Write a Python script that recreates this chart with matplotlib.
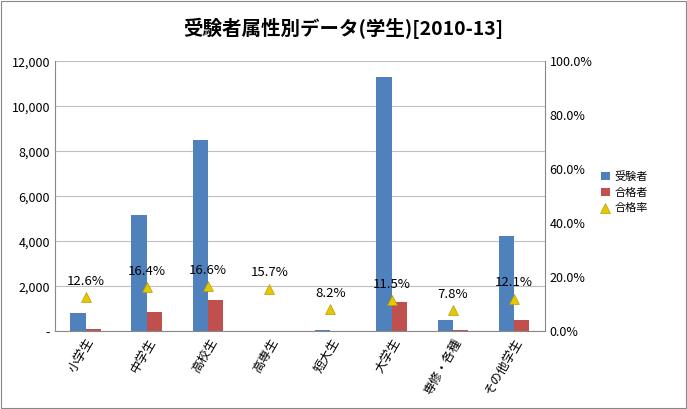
import matplotlib
matplotlib.use("Agg")
import matplotlib.pyplot as plt
import numpy as np
from matplotlib.ticker import FuncFormatter

plt.rcParams['font.family'] = ['Noto Sans CJK JP', 'DejaVu Sans']

categories = ["小学生", "中学生", "高校生", "高専生", "短大生", "大学生", "専修・各種", "その他学生"]
examinees = [800, 5150, 8500, 10, 50, 11300, 500, 4250]
passers = [100, 850, 1400, 2, 5, 1300, 40, 520]
rates = [12.6, 16.4, 16.6, 15.7, 8.2, 11.5, 7.8, 12.1]

fig = plt.figure(figsize=(6.87, 4.09), dpi=100)
fig.patch.set_facecolor('white')
ax = fig.add_axes([0.08, 0.19, 0.713, 0.66])
x = np.arange(len(categories))
w = 0.25
ax.bar(x - w/2, examinees, w, color='#4F81BD', label='受験者')
ax.bar(x + w/2, passers, w, color='#C0504D', label='合格者')
ax.set_xlim(-0.5, len(categories) - 0.5)
ax.set_ylim(0, 12000)
ax.set_yticks(range(0, 12001, 2000))
ax.yaxis.set_major_formatter(FuncFormatter(lambda v, p: '-' if v == 0 else f'{int(v):,}'))
ax.set_xticks(x)
ax.set_xticklabels(categories, rotation=60, ha='right', rotation_mode='anchor', fontsize=9)
ax.tick_params(axis='y', labelsize=9, length=0)
ax.tick_params(axis='x', length=0)
ax.yaxis.grid(True, color='#BFBFBF', linewidth=0.8)
ax.set_axisbelow(True)
for s in ['top', 'right']:
    ax.spines[s].set_visible(False)
ax.spines['left'].set_color('#888888')
ax.spines['bottom'].set_color('#888888')

ax2 = ax.twinx()
ax2.scatter(x, rates, marker='^', s=50, color='#E6C800', edgecolors='#B89A00', linewidths=0.5, label='合格率', zorder=5)
ax2.set_ylim(0, 100)
ax2.set_yticks(range(0, 101, 20))
ax2.yaxis.set_major_formatter(FuncFormatter(lambda v, p: f'{v:.1f}%'))
ax2.tick_params(axis='y', labelsize=9, length=0)
for s in ['top', 'left', 'bottom']:
    ax2.spines[s].set_visible(False)
ax2.spines['right'].set_color('#888888')
for xi, r in zip(x, rates):
    ax2.text(xi, r + 3.5, f'{r}%', ha='center', va='bottom', fontsize=9.5, zorder=6)

h1, l1 = ax.get_legend_handles_labels()
h2, l2 = ax2.get_legend_handles_labels()
fig.legend(h1 + h2, l1 + l2, loc='center left', bbox_to_anchor=(0.86, 0.53), frameon=False, fontsize=8, handlelength=0.8, handletextpad=0.4)

fig.add_artist(plt.Rectangle((0.002, 0.002), 0.996, 0.996, transform=fig.transFigure, fill=False, edgecolor='#888888', linewidth=0.8))
fig.text(0.5, 0.93, '受験者属性別データ(学生)[2010-13]', ha='center', va='center', fontsize=14, fontweight='bold')
fig.savefig('out.png', dpi=100, facecolor='white')
